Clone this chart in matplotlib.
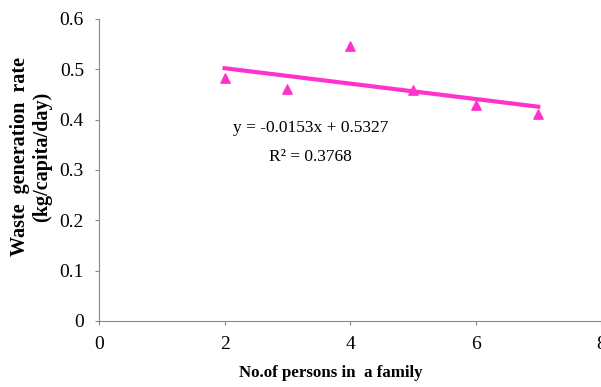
import numpy as np
import matplotlib.pyplot as plt

# Household size vs. per-capita waste generation
persons = [2, 3, 4, 5, 6, 7]
waste_rate = [0.483, 0.461, 0.547, 0.459, 0.429, 0.411]

slope = -0.0153
intercept = 0.5327
r_squared = 0.3768

xticks = [0, 2, 4, 6, 8]
yticks = [0, 0.1, 0.2, 0.3, 0.4, 0.5, 0.6]

plt.rcParams['font.family'] = ['Liberation Serif', 'DejaVu Serif']

fig = plt.figure(figsize=(6.01, 3.87), dpi=100)
ax = fig.add_axes([0.165, 0.171, 0.835, 0.78])

pink = '#ff33cc'
ax.scatter(persons, waste_rate, marker='^', s=45, color=pink, zorder=3)

# linear trend line over the data range
x_fit = np.array([min(persons), max(persons)])
ax.plot(x_fit, slope * x_fit + intercept, color=pink, lw=3, zorder=2)

ax.text(3.37, 0.384, f'y = {slope}x + {intercept}', fontsize=12.5,
        ha='center', va='center')
ax.text(3.37, 0.326, f'R² = {r_squared}', fontsize=12.5,
        ha='center', va='center')

ax.set_xlim(0, 8)
ax.set_ylim(0, 0.6)
ax.set_xticks(xticks)
ax.set_yticks(yticks)
ax.set_xticklabels([str(t) for t in xticks])
ax.set_yticklabels(['0', '0.1', '0.2', '0.3', '0.4', '0.5', '0.6'])
ax.tick_params(labelsize=14, color='#888888', length=3, width=0.8)
ax.tick_params(axis='x', pad=8)
ax.tick_params(axis='y', pad=8)

for side in ['top', 'right']:
    ax.spines[side].set_visible(False)
for side in ['left', 'bottom']:
    ax.spines[side].set_color('#888888')

ax.set_xlabel('No.of persons in  a family', fontsize=12.2, fontweight='bold')
ax.xaxis.set_label_coords(0.462, -0.148)
ax.set_ylabel('Waste  generation  rate\n(kg/capita/day)', fontsize=14.5,
              fontweight='bold', linespacing=1.15)
ax.yaxis.set_label_coords(-0.094, 0.543)

fig.savefig('out.png', dpi=100)
